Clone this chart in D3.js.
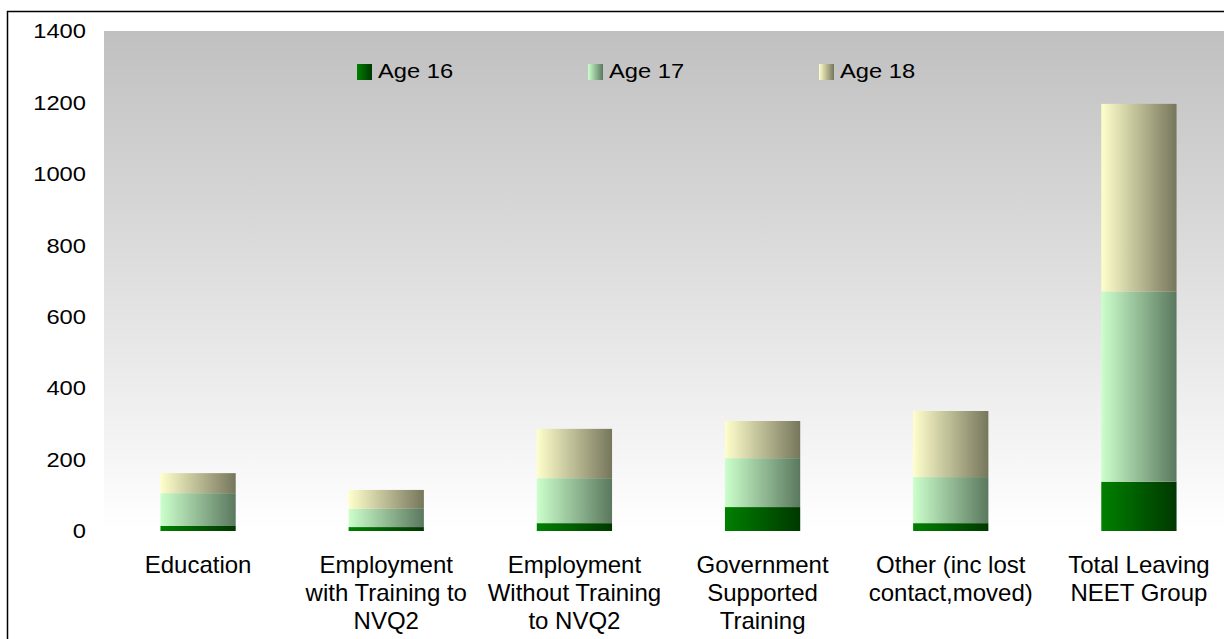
<!DOCTYPE html>
<html>
<head>
<meta charset="utf-8">
<script src="https://cdn.jsdelivr.net/npm/d3@7/dist/d3.min.js"></script>
<style>
  html, body { margin: 0; padding: 0; background: #ffffff; }
  svg { display: block; font-family: "Liberation Sans", Arial, sans-serif; }
</style>
</head>
<body>
<svg id="chart" width="1224" height="639"></svg>
<script>
// Destinations of young people leaving the NEET group, by age
const categories = [
  "Education",
  "Employment\nwith Training to\nNVQ2",
  "Employment\nWithout Training\nto NVQ2",
  "Government\nSupported\nTraining",
  "Other (inc lost\ncontact,moved)",
  "Total Leaving\nNEET Group"
];
const seriesNames = ["Age 16", "Age 17", "Age 18"];
const age16 = [14, 11, 22, 67, 22, 138];
const age17 = [92, 51, 126, 137, 129, 532];
const age18 = [56, 53, 138, 104, 185, 526];
const yTicks = [0, 200, 400, 600, 800, 1000, 1200, 1400];

// light -> dark horizontal shading for each series
const shades = [
  ["#008000", "#003800"],
  ["#ccffcc", "#5a785e"],
  ["#ffffcc", "#76765c"]
];

const svg = d3.select("#chart");
const plot = { left: 104, top: 31, right: 1233, bottom: 531 };

const defs = svg.append("defs");
const bg = defs.append("linearGradient").attr("id", "plotBg")
  .attr("x1", 0).attr("y1", 0).attr("x2", 0).attr("y2", 1);
bg.append("stop").attr("offset", "0%").attr("stop-color", "#c0c0c0");
bg.append("stop").attr("offset", "100%").attr("stop-color", "#ffffff");

shades.forEach((c, i) => {
  const g = defs.append("linearGradient").attr("id", "shade" + i)
    .attr("x1", 0).attr("y1", 0).attr("x2", 1).attr("y2", 0);
  g.append("stop").attr("offset", "0%").attr("stop-color", c[0]);
  g.append("stop").attr("offset", "100%").attr("stop-color", c[1]);
});

// chart frame
svg.append("rect")
  .attr("x", 7.5).attr("y", 11.5)
  .attr("width", 1400).attr("height", 800)
  .attr("fill", "#ffffff").attr("stroke", "#000000").attr("stroke-width", 1.5);

// plot area
svg.append("rect")
  .attr("x", plot.left).attr("y", plot.top)
  .attr("width", plot.right - plot.left).attr("height", plot.bottom - plot.top)
  .attr("fill", "url(#plotBg)");

const x = d3.scaleBand()
  .domain(categories)
  .range([plot.left, plot.right])
  .paddingInner(0.6)
  .paddingOuter(0.3);

const y = d3.scaleLinear()
  .domain([0, 1400])
  .range([plot.bottom, plot.top]);

const rows = categories.map((c, i) => ({
  cat: c, "Age 16": age16[i], "Age 17": age17[i], "Age 18": age18[i]
}));
const stacked = d3.stack().keys(seriesNames)(rows);

svg.append("g").selectAll("g")
  .data(stacked)
  .join("g")
  .attr("fill", (d, i) => "url(#shade" + i + ")")
  .selectAll("rect")
  .data(d => d)
  .join("rect")
  .attr("x", d => x(d.data.cat))
  .attr("width", x.bandwidth())
  .attr("y", d => y(d[1]))
  .attr("height", d => y(d[0]) - y(d[1]));

// value axis
const yAxis = svg.append("g")
  .attr("transform", `translate(${plot.left},0)`)
  .call(d3.axisLeft(y).tickValues(yTicks).tickFormat(d3.format("d"))
    .tickSize(0).tickPadding(18));
yAxis.select(".domain").remove();
yAxis.selectAll("text")
  .attr("x", 0)
  .attr("transform", "translate(-18,0) scale(1.13,1)")
  .attr("font-size", 21)
  .attr("font-family", "Liberation Sans, Arial, sans-serif")
  .attr("fill", "#000000");

// category axis with wrapped labels
const xAxis = svg.append("g")
  .attr("transform", `translate(0,${plot.bottom})`)
  .call(d3.axisBottom(x).tickSize(0));
xAxis.select(".domain").remove();
xAxis.selectAll("text").each(function(d) {
  const t = d3.select(this);
  t.text(null)
    .attr("y", 0).attr("dy", null)
    .attr("font-size", 24)
    .attr("font-family", "Liberation Sans, Arial, sans-serif")
    .attr("fill", "#000000");
  d.split("\n").forEach((line, k) => {
    t.append("tspan").attr("x", 0).attr("y", 42 + k * 28).text(line);
  });
});

// legend
const legend = svg.append("g").selectAll("g")
  .data(seriesNames)
  .join("g")
  .attr("transform", (d, i) => `translate(${357 + i * 231},64)`);
legend.append("rect")
  .attr("width", 15).attr("height", 16)
  .attr("fill", (d, i) => "url(#shade" + i + ")");
legend.append("text")
  .attr("transform", "translate(21,14) scale(1.13,1)")
  .attr("font-size", 21)
  .attr("fill", "#000000")
  .text(d => d);
</script>
</body>
</html>
